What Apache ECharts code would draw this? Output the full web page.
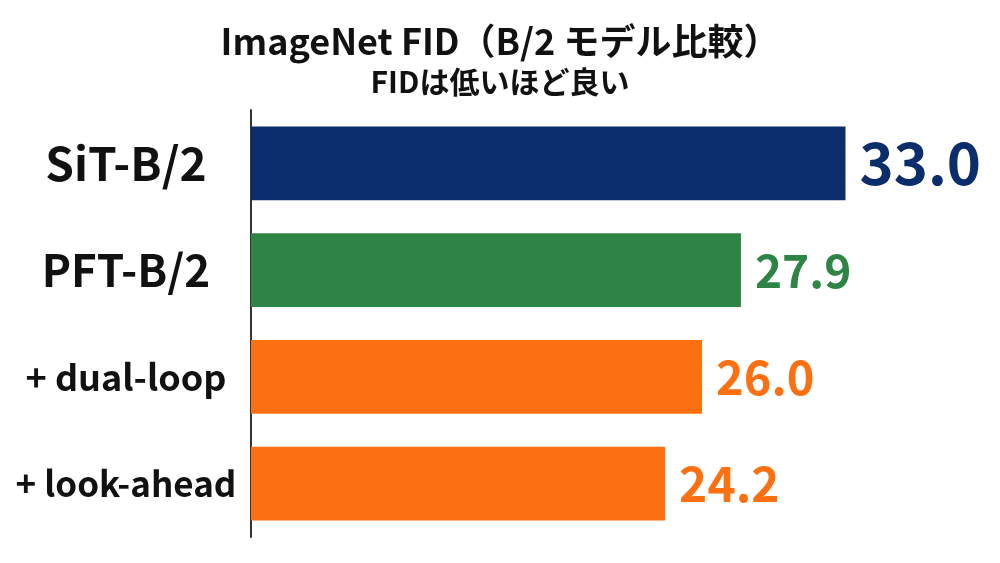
<!DOCTYPE html>
<html><head><meta charset="utf-8">
<script src="https://cdn.jsdelivr.net/npm/echarts@6/dist/echarts.min.js"></script>
<style>html,body{margin:0;padding:0;background:#fff}#c{width:1000px;height:563px}</style>
</head><body><div id="c"></div>
<script>
const categories = ['SiT-B/2', 'PFT-B/2', '+ dual-loop', '+ look-ahead'];
const fidValues = [33.0, 27.9, 26.0, 24.2];
const barColors = ['#0c2d6b', '#2e8444', '#fd7011', '#fd7011'];
const labelSizes = [46, 44, 36, 35];
const valueSizes = [58, 46, 47, 48];

const FONT = '"Noto Sans CJK JP", "Noto Sans", sans-serif';
const chart = echarts.init(document.getElementById('c'), null, {renderer: 'canvas'});
const rich = {};
labelSizes.forEach((s, i) => { rich['c' + i] = {fontSize: s, fontWeight: 'bold', color: '#111', fontFamily: FONT}; });

chart.setOption({
  backgroundColor: '#ffffff',
  animation: false,
  title: {
    text: 'ImageNet FID（B/2 モデル比較）',
    subtext: 'FIDは低いほど良い',
    left: 'center', top: 18, itemGap: 8,
    textStyle: {fontSize: 36, fontWeight: 'bold', color: '#111', fontFamily: FONT},
    subtextStyle: {fontSize: 30, fontWeight: 'bold', color: '#111', fontFamily: FONT}
  },
  grid: {left: 251, right: 11, top: 110, bottom: 26, containLabel: false},
  xAxis: {type: 'value', min: 4, max: 40, show: false},
  yAxis: {
    type: 'category', inverse: true, data: categories,
    axisLine: {show: true, lineStyle: {color: '#333', width: 2}},
    axisTick: {show: false},
    axisLabel: {
      margin: 125, align: 'center',
      formatter: (v, i) => '{c' + i + '|' + v + '}',
      rich: rich
    }
  },
  series: [{
    type: 'bar', barWidth: '69%',
    data: fidValues.map((v, i) => ({
      value: v,
      itemStyle: {color: barColors[i]},
      label: {color: barColors[i], fontSize: valueSizes[i]}
    })),
    label: {
      show: true, position: 'right', distance: 14,
      fontWeight: 'bold', fontFamily: FONT,
      formatter: p => p.value.toFixed(1)
    }
  }]
});
</script></body></html>
